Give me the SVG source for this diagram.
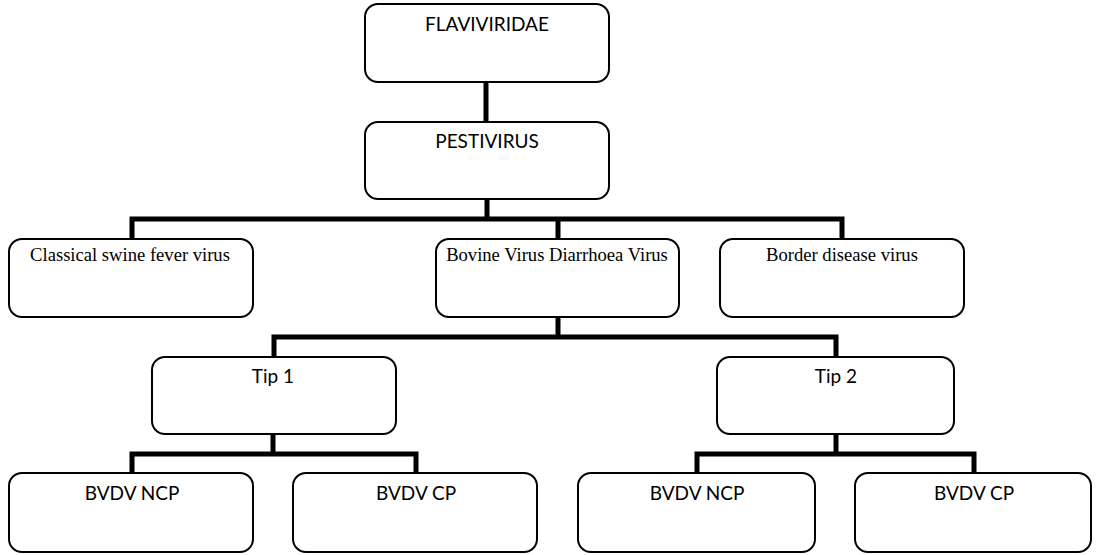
<svg xmlns="http://www.w3.org/2000/svg" width="1106" height="555" viewBox="0 0 1106 555">
<style>
.box{fill:#fff;stroke:#000;stroke-width:2}
.sans{font-family:Lato,"Open Sans",sans-serif;font-size:19px;fill:#000;text-anchor:middle}
.serif{font-family:"Liberation Serif","Times New Roman",serif;font-size:18.6px;fill:#000;text-anchor:middle}
.conn{fill:none;stroke:#000;stroke-width:5;stroke-linecap:butt;stroke-linejoin:miter}
</style>
<rect width="1106" height="555" fill="#fff"/>
<g id="connectors">
<path class="conn" d="M486,82 V122"/>
<path class="conn" d="M487,199 V219"/>
<path class="conn" d="M132,239 V219 H842 V239"/>
<path class="conn" d="M558,219 V239"/>
<path class="conn" d="M558,317 V337"/>
<path class="conn" d="M274,357 V337 H836 V357"/>
<path class="conn" d="M273,434 V454"/>
<path class="conn" d="M132,473 V454 H416 V473"/>
<path class="conn" d="M836,434 V454"/>
<path class="conn" d="M697,473 V454 H974 V473"/>
</g>
<g id="flaviviridae"><rect class="box" x="365" y="4" width="244" height="78" rx="13"/><text class="sans" x="487" y="31">FLAVIVIRIDAE</text></g>
<g id="pestivirus"><rect class="box" x="365" y="122" width="244" height="77" rx="13"/><text class="sans" x="487" y="148">PESTIVIRUS</text></g>
<g id="csfv"><rect class="box" x="9" y="239" width="244" height="78" rx="13"/><text class="serif" x="130" y="261">Classical swine fever virus</text></g>
<g id="bvdv"><rect class="box" x="436" y="239" width="243" height="78" rx="13"/><text class="serif" x="557" y="261">Bovine Virus Diarrhoea Virus</text></g>
<g id="bdv"><rect class="box" x="720" y="239" width="244" height="78" rx="13"/><text class="serif" x="842" y="261">Border disease virus</text></g>
<g id="tip1"><rect class="box" x="152" y="357" width="244" height="77" rx="13"/><text class="sans" x="273" y="383">Tip 1</text></g>
<g id="tip2"><rect class="box" x="717" y="357" width="237" height="77" rx="13"/><text class="sans" x="836" y="383">Tip 2</text></g>
<g id="ncp1"><rect class="box" x="9" y="473" width="244" height="79" rx="13"/><text class="sans" x="132" y="500">BVDV NCP</text></g>
<g id="cp1"><rect class="box" x="293" y="473" width="244" height="79" rx="13"/><text class="sans" x="416" y="500">BVDV CP</text></g>
<g id="ncp2"><rect class="box" x="578" y="473" width="237" height="79" rx="13"/><text class="sans" x="697" y="500">BVDV NCP</text></g>
<g id="cp2"><rect class="box" x="855" y="473" width="236" height="79" rx="13"/><text class="sans" x="974" y="500">BVDV CP</text></g>
</svg>
